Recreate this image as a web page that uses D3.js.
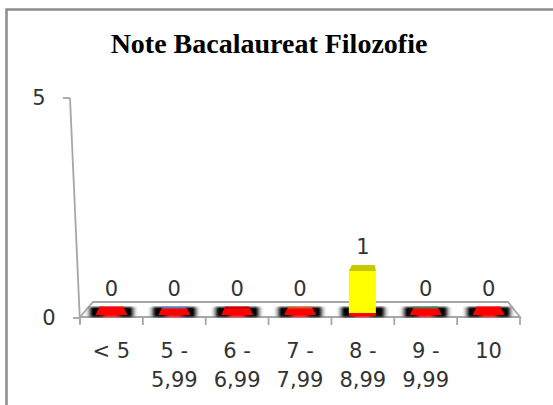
<!DOCTYPE html>
<html>
<head>
<meta charset="utf-8">
<script src="https://cdn.jsdelivr.net/npm/d3@7"></script>
<style>
  html, body { margin: 0; padding: 0; background: #fff; }
  svg { display: block; }
</style>
</head>
<body>
<svg id="chart" width="553" height="405"></svg>
<script>
const title = "Note Bacalaureat Filozofie";
const categories = ["< 5", "5 - 5,99", "6 - 6,99", "7 - 7,99", "8 - 8,99", "9 - 9,99", "10"];
const values = [0, 0, 0, 0, 1, 0, 0];
const topColors = ["#ff0000", "#4f81bd", "#c00000", "#c8642a", "#c8c800", "#2e8b57", "#ff0000"];
const yTicks = [0, 5];

const svg = d3.select("#chart");
const W = 553, H = 405;
const labelFont = "'DejaVu Sans', sans-serif";
const labelColor = "#333";

// frame
svg.append("rect").attr("x", 6.5).attr("y", 9.5).attr("width", W + 10).attr("height", H + 10)
  .attr("fill", "#fff").attr("stroke", "#8c8c8c").attr("stroke-width", 2.5);

// title
svg.append("text").attr("x", 269).attr("y", 53).attr("text-anchor", "middle")
  .attr("font-family", "'Liberation Serif', 'Times New Roman', serif")
  .attr("font-weight", "bold").attr("font-size", 28).attr("fill", "#000").text(title);

// scales
const x = d3.scaleBand().domain(categories).range([80, 520]).paddingInner(0).paddingOuter(0);
const y = d3.scaleLinear().domain([0, 5]).range([318, 98]);
const axisX = d3.scaleLinear().domain([0, 5]).range([80, 70]);
const barFront = d3.scaleLinear().domain([0, 5]).range([313, 313 - 5 * 42]);

const defs = svg.append("defs");
const grad = defs.append("linearGradient").attr("id", "shadow").attr("x1", "0").attr("x2", "1").attr("y1", "0").attr("y2", "0");
[[0, "#fff", 0], [0.14, "#000", 1], [0.3, "#000", 1], [0.4, "#ff0000", 1], [0.6, "#ff0000", 1], [0.7, "#000", 1], [0.86, "#000", 1], [1, "#fff", 0]]
  .forEach(([o, c, a]) => grad.append("stop").attr("offset", o).attr("stop-color", c).attr("stop-opacity", a));
defs.append("filter").attr("id", "blur").append("feGaussianBlur").attr("stdDeviation", 0.9);

// floor
const fl = svg.append("g");
fl.append("polygon")
  .attr("points", [[80, 317], [93, 302], [508, 302], [520, 317]].map(p => p.join(",")).join(" "))
  .attr("fill", "#fff").attr("stroke", "#a6a6a6").attr("stroke-width", 1.8);
const bounds = categories.map(c => x(c)).concat([x.range()[1]]);
fl.selectAll("line.tick").data(bounds).join("line")
  .attr("x1", d => d).attr("x2", d => d).attr("y1", 317).attr("y2", 325)
  .attr("stroke", "#a6a6a6").attr("stroke-width", 1.8);

// y axis
const ax = svg.append("g");
ax.append("line").attr("x1", axisX(5)).attr("y1", y(5)).attr("x2", axisX(0)).attr("y2", y(0) + 5)
  .attr("stroke", "#a6a6a6").attr("stroke-width", 1.8);
ax.selectAll("line.yt").data(yTicks).join("line")
  .attr("x1", d => axisX(d) - 7).attr("x2", d => axisX(d)).attr("y1", d => y(d)).attr("y2", d => y(d))
  .attr("stroke", "#a6a6a6").attr("stroke-width", 1.8);
ax.selectAll("text").data(yTicks).join("text")
  .attr("x", d => axisX(d) - 31).attr("y", d => y(d) + 7).attr("text-anchor", "middle")
  .attr("font-family", labelFont).attr("font-size", 21).attr("fill", labelColor)
  .text(d => d);

// bars
const bw = 27;
const g = svg.append("g");
categories.forEach((c, i) => {
  const cx = x(c) + x.bandwidth() / 2;
  g.append("rect").attr("x", cx - 27).attr("y", 307).attr("width", 54).attr("height", 10)
    .attr("fill", "url(#shadow)").attr("filter", "url(#blur)");
  const top = barFront(values[i]);
  const base = barFront(0);
  if (values[i] > 0) {
    g.append("rect").attr("x", cx - 14).attr("y", base).attr("width", bw).attr("height", 3).attr("fill", "#ff0000");
    g.append("polygon")
      .attr("points", [[cx - 14, top], [cx + 13, top], [cx + 12, top - 6], [cx - 11, top - 6]].map(p => p.join(",")).join(" "))
      .attr("fill", topColors[i]);
    g.append("rect").attr("x", cx - 14).attr("y", top).attr("width", bw).attr("height", base - top).attr("fill", "#ffff00");
  } else {
    g.append("polygon")
      .attr("points", [[cx - 12, 307], [cx + 12, 307], [cx + 16, 315], [cx - 16, 315]].map(p => p.join(",")).join(" "))
      .attr("fill", "#ff0000");
    g.append("rect").attr("x", cx - 12).attr("y", 306.5).attr("width", 24).attr("height", 2).attr("fill", topColors[i]);
  }
  g.append("text").attr("x", cx).attr("y", top - 17).attr("text-anchor", "middle")
    .attr("font-family", labelFont).attr("font-size", 21).attr("fill", labelColor)
    .text(values[i]);
});

// category labels
const cl = svg.append("g");
categories.forEach(c => {
  const cx = x(c) + x.bandwidth() / 2;
  const lines = c.includes(" - ") ? [c.split(" - ")[0] + " -", c.split(" - ")[1]] : [c];
  const t = cl.append("text").attr("text-anchor", "middle")
    .attr("font-family", labelFont).attr("font-size", 21).attr("fill", labelColor);
  lines.forEach((l, k) => t.append("tspan").attr("x", cx).attr("y", 358 + k * 29).text(l));
});
</script>
</body>
</html>
